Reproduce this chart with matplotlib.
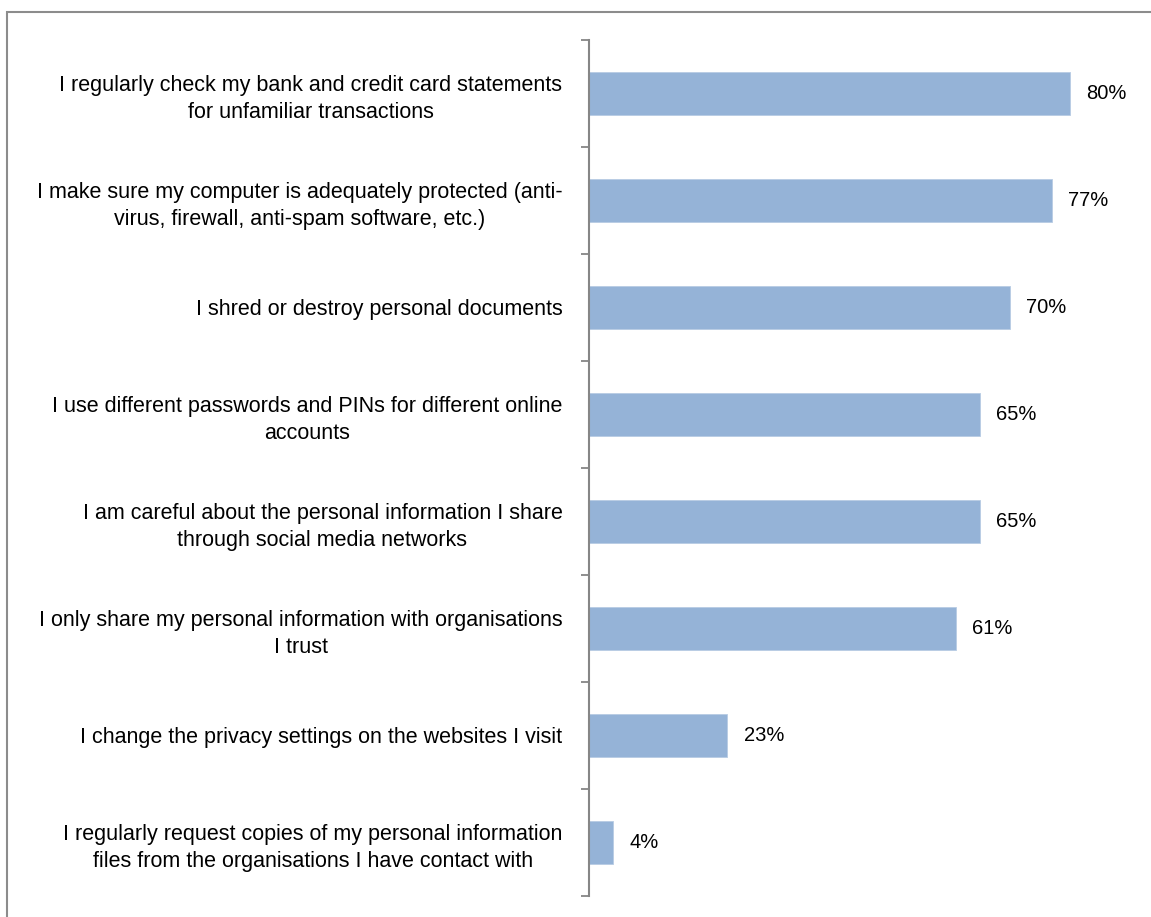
import matplotlib
matplotlib.use("Agg")
import matplotlib.pyplot as plt
from matplotlib.patches import Rectangle

# Survey responses: share of respondents taking each protective action
labels = [
    "I regularly check my bank and credit card statements\nfor unfamiliar transactions",
    "I make sure my computer is adequately protected (anti-\nvirus, firewall, anti-spam software, etc.)",
    "I shred or destroy personal documents",
    "I use different passwords and PINs for different online\naccounts",
    "I am careful about the personal information I share\nthrough social media networks",
    "I only share my personal information with organisations\nI trust",
    "I change the privacy settings on the websites I visit",
    "I regularly request copies of my personal information\nfiles from the organisations I have contact with",
]
values = [80, 77, 70, 65, 65, 61, 23, 4]

bar_color = "#95B3D7"
axis_color = "#868686"

plt.rcParams["font.family"] = ["Liberation Sans", "DejaVu Sans"]

W, H, DPI = 1151, 917, 100
fig = plt.figure(figsize=(W / DPI, H / DPI), dpi=DPI)

# outer chart frame (runs off the right and bottom edges)
fig.patches.append(Rectangle((7 / W, -0.5), 1.2, 1.5 - 11.5 / H, transform=fig.transFigure,
                             fill=False, edgecolor="#8c8c8c", linewidth=1.5, zorder=0))

ax = fig.add_axes([589.5 / W, 1 - 896 / H, (1129.5 - 589.5) / W, (896 - 40) / H])

n = len(values)
ypos = list(range(n))
ax.barh(ypos, values, height=0.40, color=bar_color, edgecolor="#b8cce4", linewidth=0.6, zorder=2)
ax.set_ylim(n - 0.5, -0.5)
ax.set_xlim(0, 90)

for y, v in zip(ypos, values):
    ax.text(v + 2.75, y, f"{v}%", va="center", ha="left", fontsize=14.5, color="#000000")

ax.set_yticks(ypos)
ax.set_yticklabels(labels, fontsize=15.5, multialignment="center", linespacing=1.37)
ax.tick_params(axis="y", which="major", length=0, pad=19.5)
ax.set_yticks([i - 0.5 for i in range(n + 1)], minor=True)
ax.tick_params(axis="y", which="minor", length=5.8, width=1.3, color=axis_color, direction="out")

ax.xaxis.set_visible(False)
for s in ("top", "right", "bottom"):
    ax.spines[s].set_visible(False)
ax.spines["left"].set_color(axis_color)
ax.spines["left"].set_linewidth(1.5)

fig.savefig("out.png", dpi=DPI)
